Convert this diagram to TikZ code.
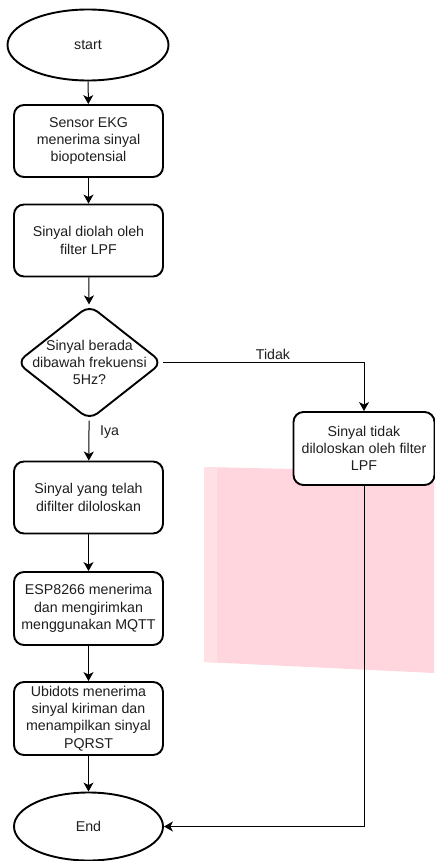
\documentclass[tikz,border=0pt]{standalone}
\usepackage{fontspec}
\setmainfont{Liberation Sans}
\usetikzlibrary{shapes.geometric,arrows.meta}
\definecolor{pinkbg}{RGB}{255,214,221}
\definecolor{pinklite}{RGB}{255,224,228}
\definecolor{txtcol}{RGB}{30,30,30}
\tikzset{
  base/.style={draw=black, fill=white, line width=1.9pt, align=center, text=txtcol,
    font=\fontsize{14.2}{17.2}\selectfont, inner sep=1pt},
  procbox/.style={base, rectangle, rounded corners=10pt, minimum width=149pt, minimum height=72pt},
  term/.style={base, ellipse, inner sep=0pt},
  decision/.style={base, diamond, rounded corners=10pt, minimum width=146pt, minimum height=115pt, inner sep=0pt},
  plain/.style={align=center, text=txtcol, font=\fontsize{14.2}{17.4}\selectfont, inner sep=0pt},
  conn/.style={draw=black, line width=1pt, -{Stealth[length=9pt,width=10pt,inset=2.5pt]}},
}
\begin{document}
\begin{tikzpicture}[x=1pt,y=-1pt]
\useasboundingbox (0,0) rectangle (434,861);
% pink background patch
\fill[pinkbg] (204,467) -- (434,472) -- (434,673) -- (204,662) -- cycle;
\fill[pinklite] (204,467) -- (217,467.3) -- (217,662.6) -- (204,662) -- cycle;

\node[term, minimum width=161pt, minimum height=71pt] (start) at (88,45) {start};
\node[procbox] (b1) at (88.5,141) {Sensor EKG\\menerima sinyal\\biopotensial};
\node[procbox] (b2) at (88.5,240.5) {Sinyal diolah oleh\\filter LPF};
\node[decision] (dec) at (89.5,362.5) {};
\node[plain] (dectext) at (dec.center) {Sinyal berada\\dibawah frekuensi\\5Hz?};
\node[procbox, minimum width=141pt, minimum height=73pt] (b3) at (364,448.5) {Sinyal tidak\\diloloskan oleh filter\\LPF};
\node[procbox] (b4) at (88.5,497.5) {Sinyal yang telah\\difilter diloloskan};
\node[procbox, minimum height=73pt] (b5) at (88.5,608.5) {ESP8266 menerima\\dan mengirimkan\\menggunakan MQTT};
\node[procbox, minimum height=73pt] (b6) at (88.5,718.5) {Ubidots menerima\\sinyal kiriman dan\\menampilkan sinyal\\PQRST};
\node[term, minimum width=149pt, minimum height=68pt] (end) at (88.5,826.5) {End};

\draw[conn] (start) -- (b1);
\draw[conn] (b1) -- (b2);
\draw[conn] (b2) -- (dec);
\draw[conn] (dec.east) -| (b3.north);
\node[plain, anchor=south] (tidak) at (273,360) {Tidak};
\draw[conn] (dec) -- (b4);
\node[plain, anchor=west] (iya) at (100,432) {Iya};
\draw[conn] (b4) -- (b5);
\draw[conn] (b5) -- (b6);
\draw[conn] (b6) -- (end);
\draw[conn] (b3.south) |- (end.east);
\end{tikzpicture}
\end{document}
